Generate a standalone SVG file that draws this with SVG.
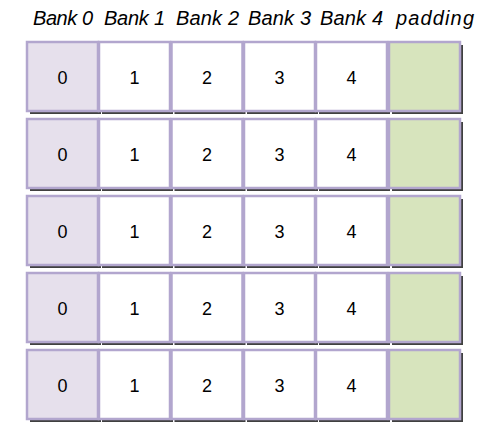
<svg xmlns="http://www.w3.org/2000/svg" width="491" height="438" viewBox="0 0 491 438">
<defs>
<style>
.lbl{font-family:"Liberation Sans",Arial,sans-serif;font-style:italic;font-size:20px;fill:#000}
.num{font-family:"Liberation Sans",Arial,sans-serif;font-size:18px;fill:#000;text-anchor:middle}
.cell{stroke:#B2A6CE;stroke-width:2.5}
.sh{fill:#404040}
.b0{fill:#E6E0EC}
.w{fill:#FFFFFF}
.pad{fill:#D7E4BD}
</style>
<g id="cellrow">
<rect class="sh" x="30" y="45" width="71" height="69"/>
<rect class="sh" x="102" y="45" width="71" height="69"/>
<rect class="sh" x="174.5" y="45" width="71" height="69"/>
<rect class="sh" x="247" y="45" width="71" height="69"/>
<rect class="sh" x="319" y="45" width="71" height="69"/>
<rect class="sh" x="392" y="45" width="71" height="69"/>
<rect class="cell b0" x="27" y="42" width="71" height="69"/>
<rect class="cell w" x="99" y="42" width="71" height="69"/>
<rect class="cell w" x="171.5" y="42" width="71" height="69"/>
<rect class="cell w" x="244" y="42" width="71" height="69"/>
<rect class="cell w" x="316" y="42" width="71" height="69"/>
<rect class="cell pad" x="389" y="42" width="71" height="69"/>
<text class="num" x="62.5" y="83.5">0</text>
<text class="num" x="134.5" y="83.5">1</text>
<text class="num" x="207" y="83.5">2</text>
<text class="num" x="279.5" y="83.5">3</text>
<text class="num" x="351.5" y="83.5">4</text>
</g>
</defs>
<g id="labels">
<text class="lbl" x="33" y="25" textLength="60">Bank 0</text>
<text class="lbl" x="104" y="25" textLength="61">Bank 1</text>
<text class="lbl" x="176" y="25" textLength="63">Bank 2</text>
<text class="lbl" x="248" y="25" textLength="63">Bank 3</text>
<text class="lbl" x="320" y="25" textLength="63">Bank 4</text>
<text class="lbl" x="396" y="25" textLength="78">padding</text>
</g>
<g id="row1"><use href="#cellrow"/></g>
<g id="row2"><use href="#cellrow" y="77"/></g>
<g id="row3"><use href="#cellrow" y="154"/></g>
<g id="row4"><use href="#cellrow" y="231"/></g>
<g id="row5"><use href="#cellrow" y="308"/></g>
<g id="connectors"/>
</svg>
